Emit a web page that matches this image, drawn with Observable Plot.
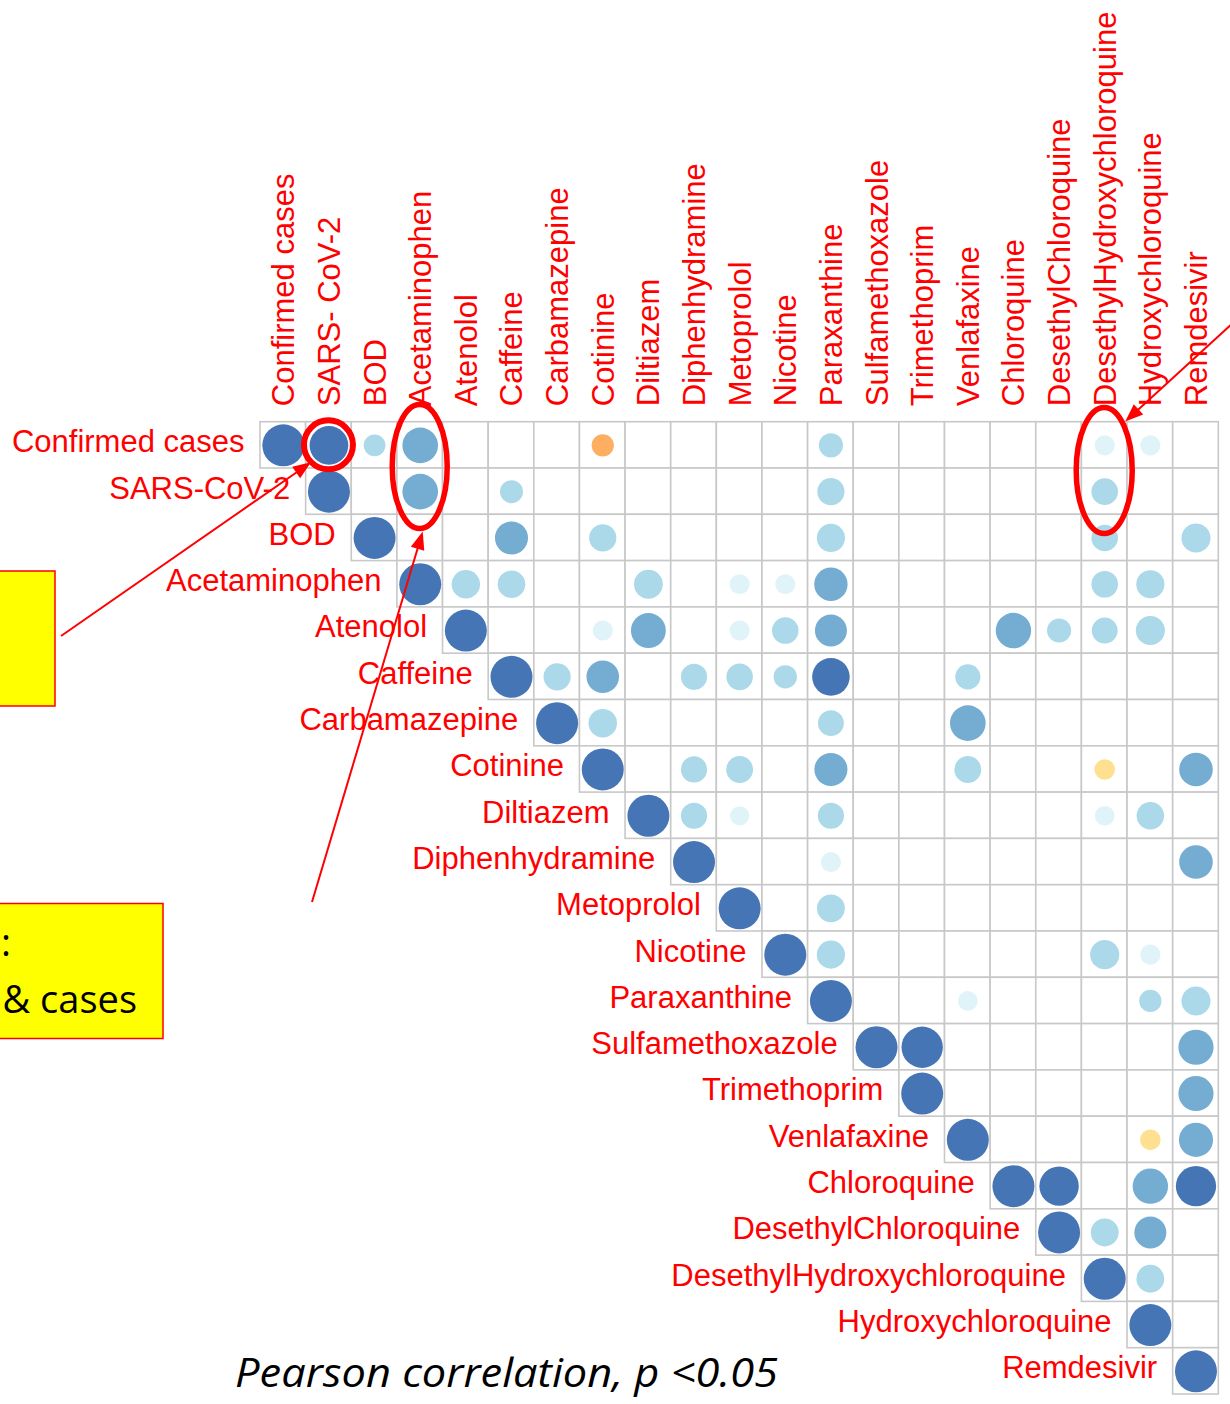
<!DOCTYPE html>
<html>
<head>
<meta charset="utf-8">
<script src="https://cdn.jsdelivr.net/npm/d3@7"></script>
<script src="https://cdn.jsdelivr.net/npm/@observablehq/plot@0.6"></script>
<style>
  html, body { margin: 0; padding: 0; background: #fff; }
  #chart { position: relative; width: 1230px; height: 1404px; overflow: hidden; }
</style>
</head>
<body>
<div id="chart"></div>
<script>
// ---------- DATA ----------
const variables = [
  "Confirmed cases", "SARS-CoV-2", "BOD", "Acetaminophen", "Atenolol", "Caffeine",
  "Carbamazepine", "Cotinine", "Diltiazem", "Diphenhydramine", "Metoprolol", "Nicotine",
  "Paraxanthine", "Sulfamethoxazole", "Trimethoprim", "Venlafaxine", "Chloroquine",
  "DesethylChloroquine", "DesethylHydroxychloroquine", "Hydroxychloroquine", "Remdesivir"
];
const colLabels = [
  "Confirmed cases", "SARS- CoV-2", "BOD", "Acetaminophen", "Atenolol", "Caffeine",
  "Carbamazepine", "Cotinine", "Diltiazem", "Diphenhydramine", "Metoprolol", "Nicotine",
  "Paraxanthine", "Sulfamethoxazole", "Trimethoprim", "Venlafaxine", "Chloroquine",
  "DesethylChloroquine", "DesethylHydroxychloroquine", "Hydroxychloroquine", "Remdesivir"
];
const rowLabels = [
  "Confirmed cases", "SARS-CoV-2", "BOD", "Acetaminophen", "Atenolol", "Caffeine",
  "Carbamazepine", "Cotinine", "Diltiazem", "Diphenhydramine", "Metoprolol", "Nicotine",
  "Paraxanthine", "Sulfamethoxazole", "Trimethoprim", "Venlafaxine", "Chloroquine",
  "DesethylChloroquine", "DesethylHydroxychloroquine", "Hydroxychloroquine", "Remdesivir"
];

// Upper-triangle Pearson r (row i starts at column i); null = not significant (p >= 0.05)
const _ = null;
const rConfirmed   = [1.00, 0.85, 0.27, 0.72, _, _, _, -0.28, _, _, _, _, 0.33, _, _, _, _, _, 0.23, 0.23, _];
const rSars        = [1.00, _, 0.72, _, 0.30, _, _, _, _, _, _, 0.42, _, _, _, _, _, 0.40, _, _];
const rBod         = [1.00, _, _, 0.62, _, 0.42, _, _, _, _, 0.45, _, _, _, _, _, 0.40, _, 0.48];
const rAcetamin    = [1.00, 0.46, 0.43, _, _, 0.47, _, 0.23, 0.23, 0.63, _, _, _, _, _, 0.40, 0.45, _];
const rAtenolol    = [1.00, _, _, 0.23, 0.69, _, 0.23, 0.40, 0.58, _, _, _, 0.71, 0.33, 0.38, 0.48, _];
const rCaffeine    = [1.00, 0.42, 0.60, _, 0.39, 0.40, 0.31, 0.80, _, _, 0.36, _, _, _, _, _];
const rCarbamaz    = [1.00, 0.46, _, _, _, _, 0.38, _, _, 0.72, _, _, _, _, _];
const rCotinine    = [1.00, _, 0.39, 0.41, _, 0.62, _, _, 0.41, _, _, -0.24, _, 0.64];
const rDiltiazem   = [1.00, 0.39, 0.21, _, 0.39, _, _, _, _, _, 0.22, 0.43, _];
const rDiphenhyd   = [1.00, _, _, 0.23, _, _, _, _, _, _, _, 0.64];
const rMetoprolol  = [1.00, _, 0.44, _, _, _, _, _, _, _, _];
const rNicotine    = [1.00, 0.45, _, _, _, _, _, 0.48, 0.23, _];
const rParaxanth   = [1.00, _, _, 0.22, _, _, _, 0.28, 0.48];
const rSulfameth   = [1.00, 0.97, _, _, _, _, _, 0.70];
const rTrimethop   = [1.00, _, _, _, _, _, 0.70];
const rVenlafax    = [1.00, _, _, _, -0.24, 0.66];
const rChloroq     = [1.00, 0.88, _, 0.71, 0.92];
const rDesChloroq  = [1.00, 0.44, 0.58, _];
const rDesHcq      = [1.00, 0.44, _];
const rHcq         = [1.00, _];
const rRemdesivir  = [1.00];

const rows = [rConfirmed, rSars, rBod, rAcetamin, rAtenolol, rCaffeine, rCarbamaz, rCotinine,
  rDiltiazem, rDiphenhyd, rMetoprolol, rNicotine, rParaxanth, rSulfameth, rTrimethop,
  rVenlafax, rChloroq, rDesChloroq, rDesHcq, rHcq, rRemdesivir];

const captionText = "Pearson correlation, p <0.05";
const boxText = [":", "& cases"];

// ---------- BUILD TABLES ----------
const cells = [];
const dots = [];
rows.forEach((vals, i) => vals.forEach((v, k) => {
  const j = i + k;
  cells.push({row: variables[i], col: variables[j]});
  if (v !== null) dots.push({row: variables[i], col: variables[j], value: v});
}));

const W = 1230, H = 1404;
const mL = 260, mR = 11.7, mT = 421.7, mB = 10;
const bw = (W - mL - mR) / variables.length;
const labelFont = "'Liberation Sans', Arial, sans-serif";
const red = "#ff0000";

const plot = Plot.plot({
  width: W, height: H,
  marginLeft: mL, marginRight: mR, marginTop: mT, marginBottom: mB,
  x: {type: "band", domain: variables, padding: 0, round: false, axis: null},
  y: {type: "band", domain: variables, padding: 0, round: false, axis: null},
  r: {type: "sqrt", domain: [0, 1], range: [0, 21]},
  color: {type: "threshold", domain: [-0.25, 0, 0.25, 0.5, 0.75],
          range: ["#FDAE61", "#FEE090", "#E0F3F8", "#ABD9E9", "#74ADD1", "#4575B4"]},
  style: {background: "white", fontFamily: labelFont},
  marks: [
    Plot.cell(cells, {x: "col", y: "row", fill: "white", stroke: "#c8c8c8", strokeWidth: 1.6}),
    Plot.dot(dots, {x: "col", y: "row", r: d => Math.abs(d.value), fill: "value"}),
    Plot.text(variables, {x: d => d, frameAnchor: "top", text: (d, i) => colLabels[i],
      rotate: -90, textAnchor: "start", dy: -16, dx: -11, fill: red, fontSize: 31, fontFamily: labelFont}),
    Plot.text(variables, {x: d => d, y: d => d, text: (d, i) => rowLabels[i],
      textAnchor: "end", dx: -bw / 2 - 16, dy: -3, fill: red, fontSize: 31, fontFamily: labelFont})
  ]
});

document.getElementById("chart").appendChild(plot);

// ---------- ANNOTATIONS (overlay) ----------
const svg = d3.select(plot);
const xs = plot.scale("x"), ys = plot.scale("y");
const cx = v => xs.apply(v) + xs.bandwidth / 2;
const cy = v => ys.apply(v) + ys.bandwidth / 2;
const g = svg.append("g").attr("class", "annotations");

// caption
g.append("text")
  .attr("x", 235).attr("y", 1387)
  .attr("text-anchor", "start")
  .attr("font-family", "'Open Sans', sans-serif")
  .attr("font-style", "italic")
  .attr("font-size", 40)
  .attr("fill", "#000")
  .attr("textLength", 543).attr("lengthAdjust", "spacingAndGlyphs")
  .text(captionText);

// yellow boxes
g.append("rect").attr("x", -10).attr("y", 571).attr("width", 65).attr("height", 135)
  .attr("fill", "#ffff00").attr("stroke", red).attr("stroke-width", 1.5);
g.append("rect").attr("x", -10).attr("y", 903.5).attr("width", 173).attr("height", 135)
  .attr("fill", "#ffff00").attr("stroke", red).attr("stroke-width", 1.5);
g.append("text").attr("x", 11).attr("y", 956).attr("text-anchor", "end")
  .attr("font-family", "'Open Sans', sans-serif").attr("font-size", 38).attr("fill", "#000")
  .text(boxText[0]);
g.append("text").attr("x", 137).attr("y", 1013).attr("text-anchor", "end")
  .attr("font-family", "'Open Sans', sans-serif").attr("font-size", 38).attr("fill", "#000")
  .text(boxText[1]);

// highlight ellipses
const midY = (cy(variables[0]) + cy(variables[1])) / 2;
const e1 = {x: cx("SARS-CoV-2"), y: cy("Confirmed cases"), rx: 24.5, ry: 24.5, w: 6};
const e2 = {x: cx("Acetaminophen"), y: midY - 1.5, rx: 27.5, ry: 62, w: 5.5};
const e3 = {x: cx("DesethylHydroxychloroquine"), y: midY + 2.5, rx: 28, ry: 63, w: 5.5};
for (const e of [e1, e2, e3]) {
  g.append("ellipse").attr("cx", e.x).attr("cy", e.y).attr("rx", e.rx).attr("ry", e.ry)
    .attr("fill", "none").attr("stroke", red).attr("stroke-width", e.w);
}

// arrows
function arrow(x1, y1, x2, y2) {
  const dx = x2 - x1, dy = y2 - y1, L = Math.hypot(dx, dy);
  const ux = dx / L, uy = dy / L, hl = 18, hw = 7;
  const bx = x2 - ux * hl, by = y2 - uy * hl;
  g.append("line").attr("x1", x1).attr("y1", y1).attr("x2", bx + ux * 2).attr("y2", by + uy * 2)
    .attr("stroke", red).attr("stroke-width", 2);
  g.append("polygon")
    .attr("points", `${x2},${y2} ${bx - uy * hw},${by + ux * hw} ${bx + uy * hw},${by - ux * hw}`)
    .attr("fill", red);
}
arrow(61, 636, e1.x - 17.5, e1.y + 17.5);
arrow(312, 902, e2.x + 3, e2.y + e2.ry + 3);
arrow(1245, 312, e3.x + 21, e3.y - 49);
</script>
</body>
</html>
